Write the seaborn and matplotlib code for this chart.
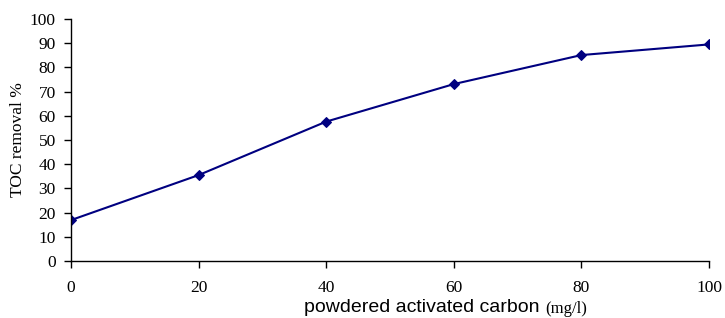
import matplotlib
matplotlib.use("Agg")
import matplotlib.pyplot as plt
import seaborn as sns
import pandas as pd

dose = [0, 20, 40, 60, 80, 100]
toc_removal = [16.9, 35.5, 57.6, 73.1, 85.1, 89.5]
x_ticks = [0, 20, 40, 60, 80, 100]
y_ticks = list(range(0, 101, 10))

sns.set_theme(style="white")
plt.rcParams['font.family'] = ['Liberation Serif', 'DejaVu Serif']
plt.rcParams['text.color'] = 'black'
plt.rcParams['axes.labelcolor'] = 'black'

df = pd.DataFrame({"dose": dose, "toc": toc_removal})

fig = plt.figure(figsize=(7.25, 3.18), dpi=100)
ax = fig.add_axes([71/725, 1-261/318, (709-71)/725, (261-19)/318])

sns.lineplot(data=df, x="dose", y="toc", ax=ax, color="#000080", marker="D",
             markersize=5, markeredgecolor="#000080", linewidth=1.5)

ax.set_xlim(0, 100)
ax.set_ylim(0, 100)
ax.set_xticks(x_ticks)
ax.set_yticks(y_ticks)
ax.tick_params(axis="both", which="both", direction="out", length=5, width=1,
               colors="black", labelsize=12.5, bottom=True, left=True)
ax.tick_params(axis="x", pad=9)
ax.tick_params(axis="y", pad=6)
for s in ["top", "right"]:
    ax.spines[s].set_visible(False)
for s in ["left", "bottom"]:
    ax.spines[s].set_color("black")
    ax.spines[s].set_linewidth(1)

ax.set_xlabel("")
ax.set_ylabel("TOC removal %", fontsize=12.5, labelpad=3, color="black")

fig.text(539/725, 1-308/318, "powdered activated carbon", ha="right", va="center",
         fontsize=14, family=["Liberation Sans"], color="black")
fig.text(545/725, 1-309/318, "(mg/l)", ha="left", va="center",
         fontsize=12, family=["Liberation Serif"], color="black")

fig.savefig("out.png", dpi=100)
